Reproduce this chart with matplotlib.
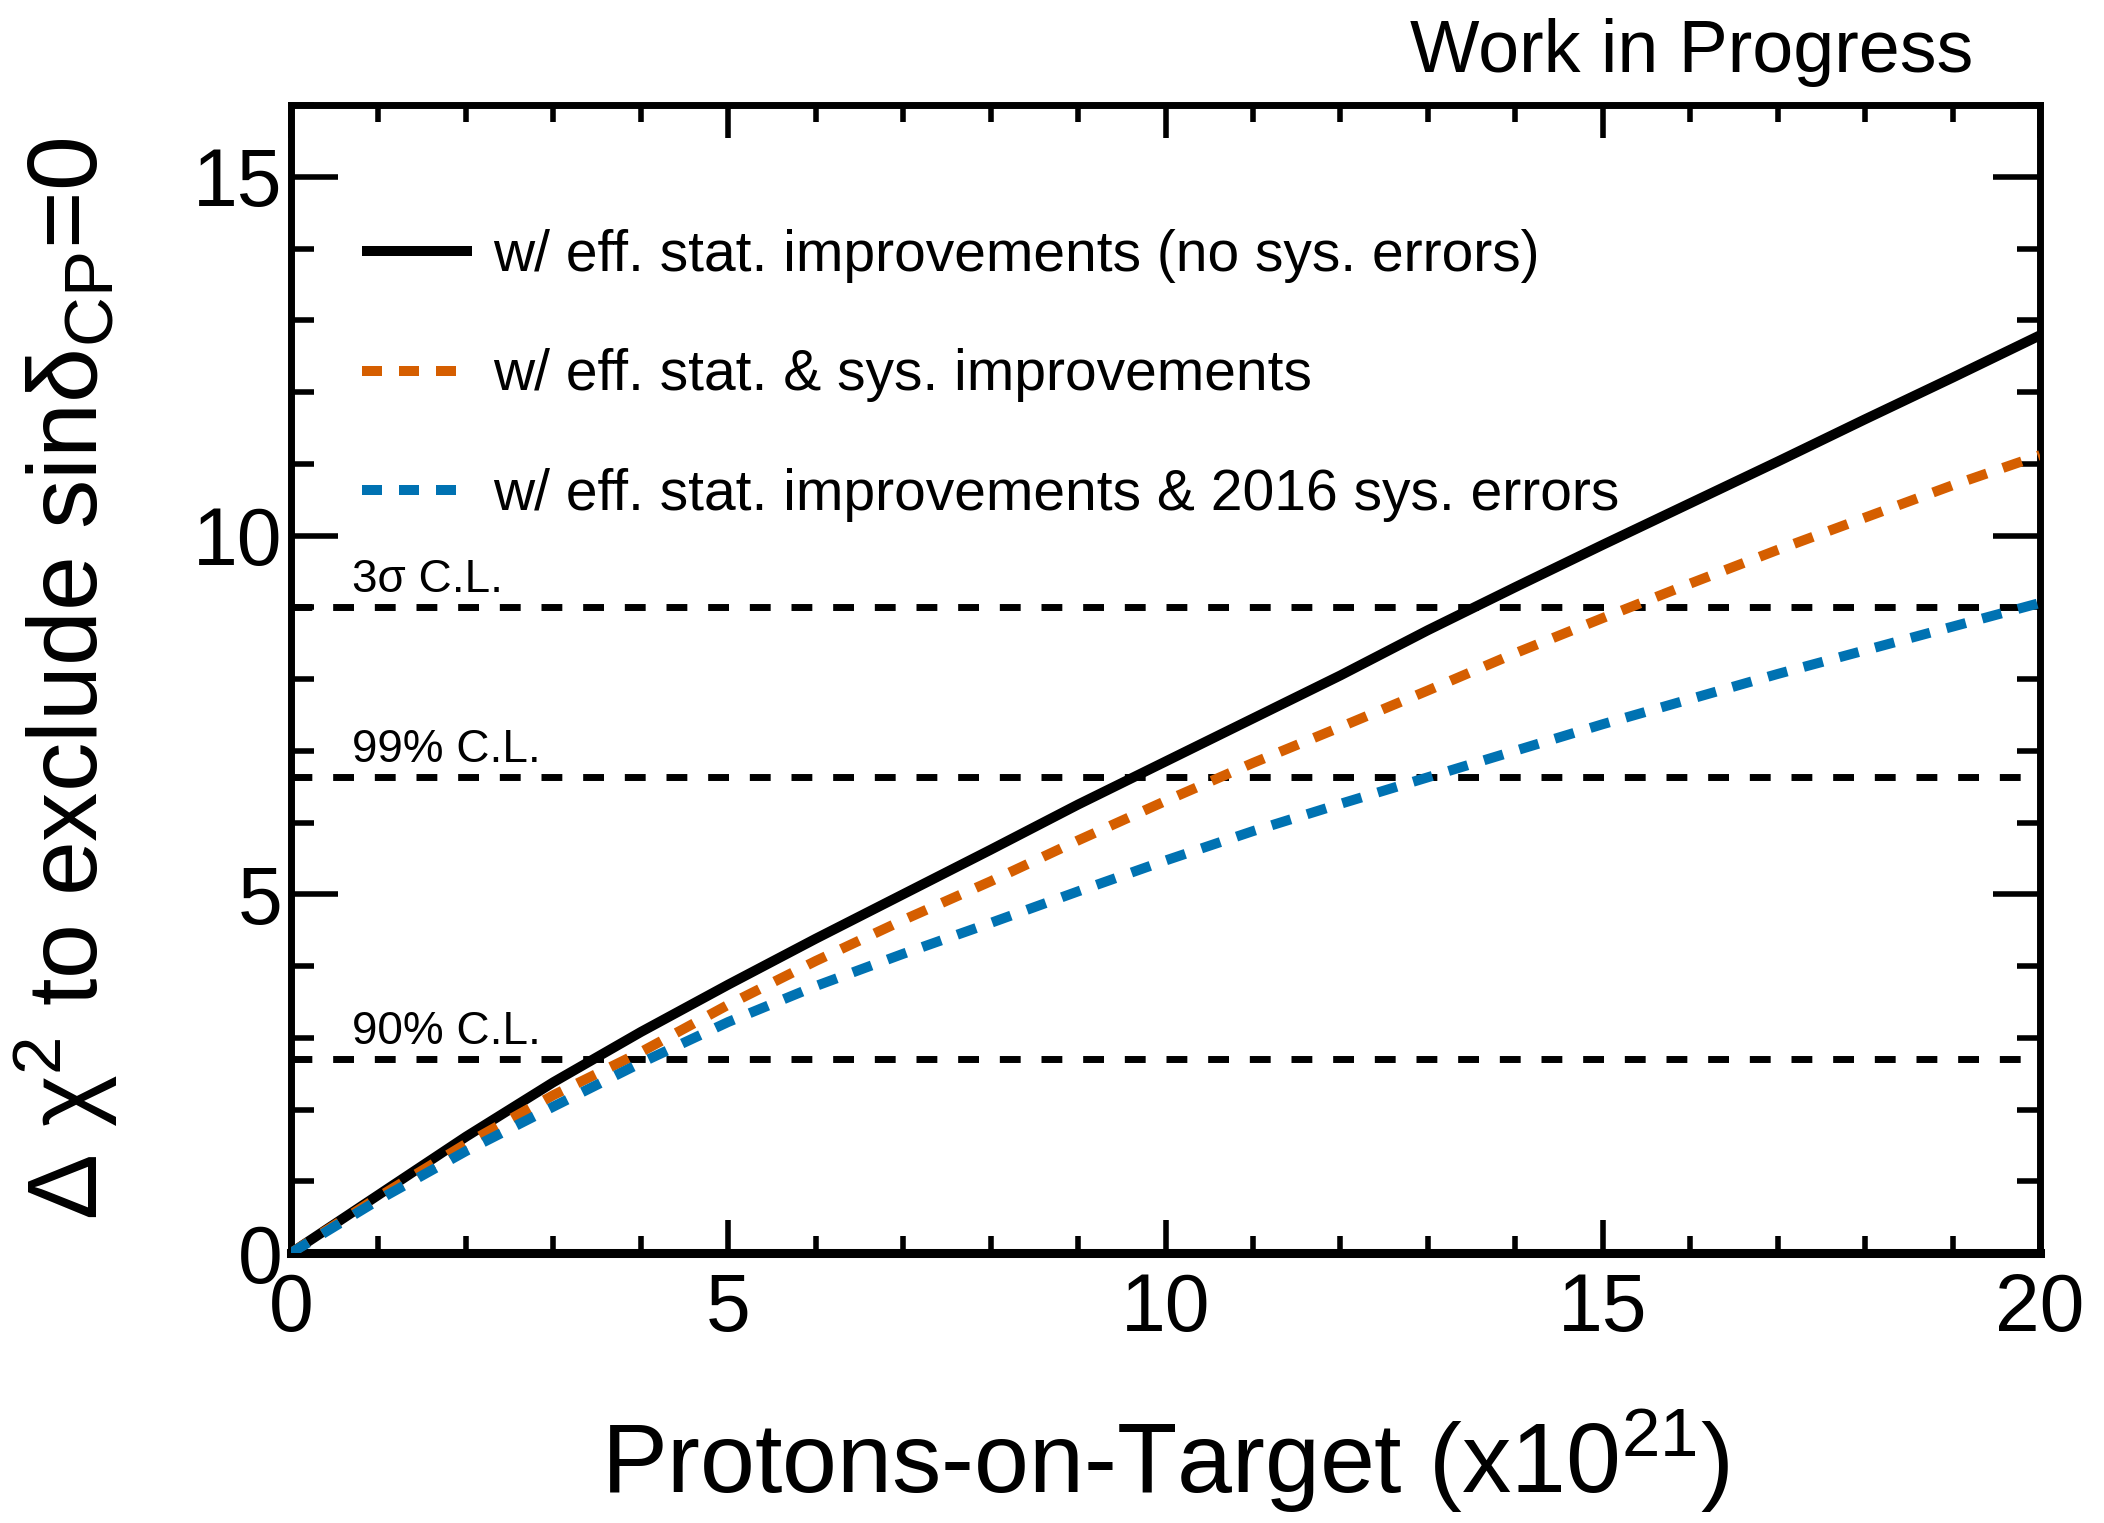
import matplotlib
matplotlib.use("Agg")
import matplotlib.pyplot as plt
from matplotlib.ticker import MultipleLocator

plt.rcParams['font.family'] = ['Liberation Sans', 'DejaVu Sans']
plt.rcParams['mathtext.fontset'] = 'custom'
plt.rcParams['mathtext.rm'] = 'Liberation Sans'
plt.rcParams['mathtext.it'] = 'Liberation Sans:italic'
plt.rcParams['mathtext.bf'] = 'Liberation Sans:bold'

# ---- data ----
pot = [0, 1, 2, 3, 4, 5, 6, 7, 8, 9, 10, 11, 12, 13, 14, 15, 16, 17, 18, 19, 20]
chi2_stat_only = [0, 0.81, 1.62, 2.38, 3.08, 3.74, 4.38, 5.00, 5.62, 6.25, 6.85,
                  7.45, 8.05, 8.68, 9.28, 9.87, 10.45, 11.03, 11.62, 12.20, 12.79]
chi2_stat_sys = [0, 0.78, 1.52, 2.20, 2.80, 3.46, 4.07, 4.64, 5.18, 5.75, 6.30,
                 6.83, 7.33, 7.84, 8.36, 8.85, 9.33, 9.80, 10.25, 10.70, 11.12]
chi2_stat_2016 = [0, 0.74, 1.42, 2.04, 2.65, 3.22, 3.72, 4.17, 4.60, 5.04, 5.47,
                  5.88, 6.26, 6.63, 7.00, 7.37, 7.72, 8.07, 8.40, 8.73, 9.06]
labels = ["w/ eff. stat. improvements (no sys. errors)",
          "w/ eff. stat. & sys. improvements",
          "w/ eff. stat. improvements & 2016 sys. errors"]
cl_values = [2.706, 6.635, 9.0]
cl_labels = ["90% C.L.", "99% C.L.", "3σ C.L."]
xticks = [0, 5, 10, 15, 20]
yticks = [0, 5, 10, 15]

W, H, DPI = 2104, 1523, 100
fig = plt.figure(figsize=(W / DPI, H / DPI), dpi=DPI)
ax = fig.add_axes([291 / W, 1 - 1253 / H, (2040 - 291) / W, (1253 - 105) / H])

lw = 7.2
orange = '#D55E00'
blue = '#0072B2'

for v, t in zip(cl_values, cl_labels):
    ax.axhline(v, color='black', lw=5, dashes=(3, 3), dash_capstyle='butt', zorder=1)
    ax.text(0.7, v + 0.21, t, fontsize=33, ha='left', va='baseline')

l1, = ax.plot(pot, chi2_stat_only, color='black', lw=lw, solid_capstyle='butt',
              label=labels[0], zorder=2)
l2, = ax.plot(pot, chi2_stat_sys, color=orange, lw=lw, dashes=(2.0, 1.7),
              dash_capstyle='butt', label=labels[1], zorder=3)
l3, = ax.plot(pot, chi2_stat_2016, color=blue, lw=lw, dashes=(2.0, 1.7),
              dash_capstyle='butt', label=labels[2], zorder=3)

ax.set_xlim(0, 20)
ax.set_ylim(0, 16)
ax.set_xticks(xticks)
ax.set_yticks(yticks)
ax.xaxis.set_minor_locator(MultipleLocator(1))
ax.yaxis.set_minor_locator(MultipleLocator(1))
ax.tick_params(axis='both', which='both', direction='in', top=True, right=True,
               width=4, labelsize=58)
ax.tick_params(axis='x', which='major', length=24, pad=14)
ax.tick_params(axis='x', which='minor', length=12)
ax.tick_params(axis='y', which='major', length=34, pad=6)
ax.tick_params(axis='y', which='minor', length=16.5)
for s in ['left', 'right', 'top']:
    ax.spines[s].set_linewidth(5)
ax.spines['bottom'].set_linewidth(6.5)

ax.set_xlabel("Protons-on-Target (x10$^{\\mathregular{21}}$)", fontsize=71)
ax.xaxis.label.set_va('baseline')
ax.xaxis.set_label_coords(0.5, (1253 - 1493) / (1253 - 105))
ax.set_ylabel("Δ χ$^{\\mathregular{2}}$ to exclude sinδ$_{\\mathregular{CP}}$=0", fontsize=71)
ax.yaxis.label.set_va('baseline')
ax.yaxis.set_label_coords((98 - 291) / (2040 - 291), 0.5)

leg = ax.legend(handles=[l1, l2, l3], loc='upper left',
                bbox_to_anchor=((362 - 291) / 1749, (1253 - 229) / 1148),
                frameon=False, fontsize=41, handlelength=1.93, handletextpad=0.38,
                labelspacing=1.15, borderpad=0, borderaxespad=0)

fig.text(1973 / W, 1 - 72 / H, "Work in Progress", fontsize=53, ha='right', va='baseline')

fig.savefig("out.png", dpi=DPI)
